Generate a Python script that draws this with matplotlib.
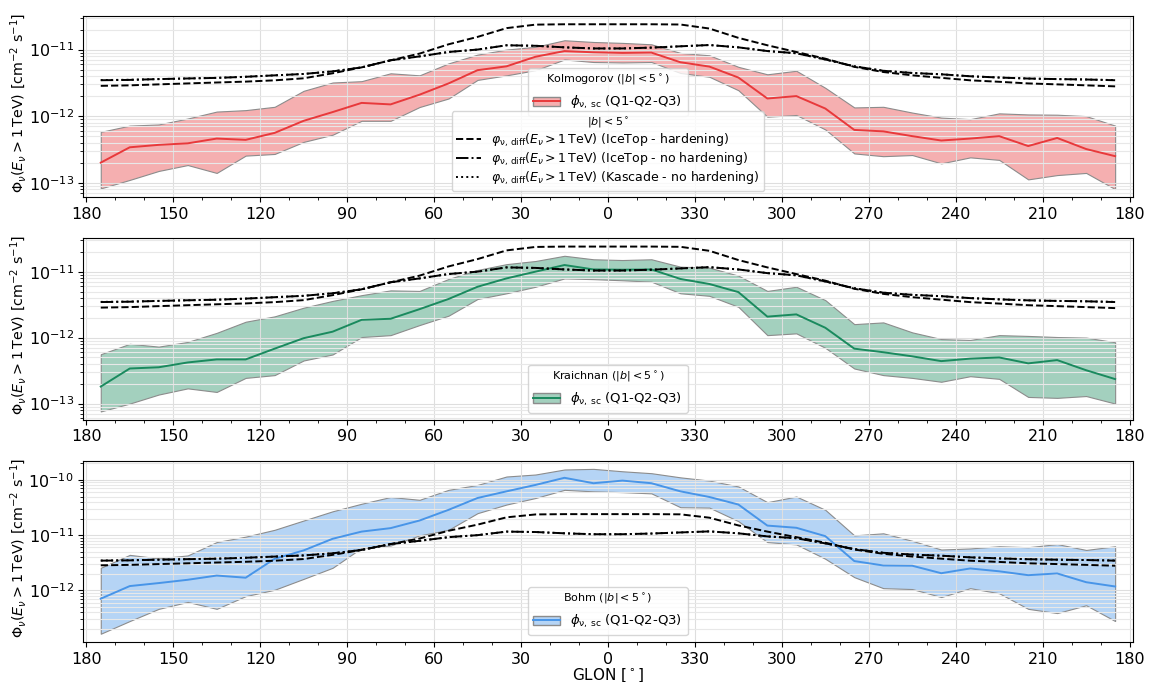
import matplotlib
matplotlib.use("Agg")
import matplotlib.pyplot as plt
import numpy as np
from matplotlib.lines import Line2D
from matplotlib.patches import Patch
from matplotlib.ticker import FixedLocator, FuncFormatter, NullFormatter

# Galactic longitude bin centres (wrapped to -180..180)
glon = [175, 165, 155, 145, 135, 125, 115, 105, 95, 85, 75, 65, 55, 45, 35, 25, 15, 5,
        -5, -15, -25, -35, -45, -55, -65, -75, -85, -95, -105, -115, -125, -135, -145, -155, -165, -175]

# diffuse neutrino flux, |b| < 5 deg
icetop_hard = [2.85e-12, 2.9e-12, 3.0e-12, 3.1e-12, 3.2e-12, 3.3e-12, 3.45e-12, 3.7e-12, 4.4e-12,
               5.4e-12, 6.9e-12, 8.7e-12, 1.2e-11, 1.55e-11, 2.1e-11, 2.37e-11, 2.4e-11, 2.4e-11,
               2.4e-11, 2.4e-11, 2.38e-11, 2.07e-11, 1.5e-11, 1.16e-11, 9.2e-12, 7.3e-12, 5.5e-12,
               4.6e-12, 4.1e-12, 3.76e-12, 3.45e-12, 3.28e-12, 3.1e-12, 3.0e-12, 2.9e-12, 2.8e-12]
icetop_nohard = [3.46e-12, 3.5e-12, 3.6e-12, 3.68e-12, 3.75e-12, 3.9e-12, 4.1e-12, 4.3e-12, 4.7e-12,
                 5.4e-12, 6.9e-12, 7.9e-12, 9.2e-12, 1.0e-11, 1.16e-11, 1.14e-11, 1.08e-11, 1.04e-11,
                 1.04e-11, 1.07e-11, 1.12e-11, 1.17e-11, 1.08e-11, 9.5e-12, 8.8e-12, 7.1e-12, 5.6e-12,
                 4.8e-12, 4.45e-12, 4.25e-12, 3.97e-12, 3.8e-12, 3.67e-12, 3.6e-12, 3.55e-12, 3.46e-12]
kascade_nohard = [3.48e-12, 3.52e-12, 3.6e-12, 3.68e-12, 3.76e-12, 3.9e-12, 4.1e-12, 4.3e-12, 4.7e-12,
                  5.4e-12, 6.9e-12, 7.9e-12, 9.2e-12, 1.0e-11, 1.16e-11, 1.14e-11, 1.08e-11, 1.04e-11,
                  1.04e-11, 1.07e-11, 1.12e-11, 1.17e-11, 1.08e-11, 9.5e-12, 8.8e-12, 7.1e-12, 5.6e-12,
                  4.8e-12, 4.45e-12, 4.25e-12, 3.97e-12, 3.8e-12, 3.67e-12, 3.6e-12, 3.55e-12, 3.48e-12]

# source-count flux quartiles per turbulence model
kol_q1 = [8.2e-14, 1.1e-13, 1.5e-13, 1.84e-13, 1.4e-13, 2.55e-13, 2.7e-13, 4.1e-13, 5.25e-13,
          8.5e-13, 8.5e-13, 1.37e-12, 1.84e-12, 3.5e-12, 4.1e-12, 4.9e-12, 7.1e-12, 6.5e-12,
          6.4e-12, 6.5e-12, 4.45e-12, 3.9e-12, 2.45e-12, 9.8e-13, 1.04e-12, 6.3e-13, 2.75e-13,
          2.5e-13, 2.6e-13, 1.95e-13, 2.4e-13, 2.2e-13, 1.12e-13, 1.3e-13, 1.4e-13, 8.0e-14]
kol_q2 = [2.0e-13, 3.4e-13, 3.7e-13, 3.9e-13, 4.6e-13, 4.4e-13, 5.6e-13, 8.5e-13, 1.15e-12,
          1.58e-12, 1.5e-12, 2.1e-12, 3.1e-12, 4.9e-12, 5.6e-12, 7.8e-12, 9.5e-12, 9.1e-12,
          8.9e-12, 9.0e-12, 6.45e-12, 5.55e-12, 3.8e-12, 1.84e-12, 2.0e-12, 1.3e-12, 6.2e-13,
          5.9e-13, 5.0e-13, 4.3e-13, 4.6e-13, 5.0e-13, 3.55e-13, 4.7e-13, 3.2e-13, 2.5e-13]
kol_q3 = [5.8e-13, 7.2e-13, 7.5e-13, 9.2e-13, 1.17e-12, 1.23e-12, 1.38e-12, 2.4e-12, 3.2e-12,
          3.35e-12, 4.4e-12, 4.1e-12, 6.2e-12, 8.4e-12, 1.0e-11, 1.1e-11, 1.38e-11, 1.3e-11,
          1.26e-11, 1.2e-11, 8.9e-12, 8.2e-12, 5.5e-12, 4.25e-12, 4.8e-12, 2.66e-12, 1.35e-12,
          1.38e-12, 1.13e-12, 9.5e-13, 9.0e-13, 1.1e-12, 1.06e-12, 1.05e-12, 1.0e-12, 7.2e-13]

kra_q1 = [7.6e-14, 1.0e-13, 1.37e-13, 1.7e-13, 1.5e-13, 2.45e-13, 2.7e-13, 4.5e-13, 5.55e-13,
          1.02e-12, 1.09e-12, 1.55e-12, 2.15e-12, 3.85e-12, 4.7e-12, 5.9e-12, 7.9e-12, 7.7e-12,
          7.4e-12, 7.05e-12, 4.7e-12, 4.3e-12, 2.93e-12, 1.09e-12, 1.16e-12, 7.0e-13, 3.4e-13,
          2.7e-13, 2.45e-13, 2.14e-13, 2.6e-13, 2.37e-13, 1.26e-13, 1.22e-13, 1.3e-13, 1.0e-13]
kra_q2 = [1.81e-13, 3.4e-13, 3.55e-13, 4.2e-13, 4.67e-13, 4.67e-13, 6.8e-13, 9.8e-13, 1.23e-12,
          1.86e-12, 1.93e-12, 2.7e-12, 3.85e-12, 5.9e-12, 7.9e-12, 1.0e-11, 1.26e-11, 1.08e-11,
          1.07e-11, 1.08e-11, 7.75e-12, 6.5e-12, 4.9e-12, 2.08e-12, 2.25e-12, 1.41e-12, 6.8e-13,
          6.0e-13, 5.2e-13, 4.4e-13, 4.8e-13, 5.0e-13, 4.07e-13, 4.56e-13, 3.2e-13, 2.35e-13]
kra_q3 = [5.6e-13, 8.05e-13, 7.3e-13, 8.6e-13, 1.18e-12, 1.74e-12, 2.1e-12, 2.84e-12, 3.6e-12,
          4.4e-12, 5.2e-12, 5.1e-12, 7.75e-12, 1.06e-11, 1.3e-11, 1.45e-11, 1.74e-11, 1.54e-11,
          1.5e-11, 1.54e-11, 1.19e-11, 1.15e-11, 8.7e-12, 5.1e-12, 5.9e-12, 3.7e-12, 1.6e-12,
          1.7e-12, 1.2e-12, 9.5e-13, 9.2e-13, 1.09e-12, 1.06e-12, 1.02e-12, 1.0e-12, 8.5e-13]

bohm_q1 = [1.65e-13, 2.8e-13, 4.65e-13, 6.2e-13, 4.65e-13, 7.9e-13, 1.03e-12, 1.62e-12, 2.57e-12,
           5.9e-12, 6.5e-12, 9.9e-12, 1.25e-11, 2.5e-11, 3.58e-11, 4.7e-11, 6.6e-11, 6.2e-11,
           6.0e-11, 5.7e-11, 3.2e-11, 3.15e-11, 1.79e-11, 7.5e-12, 6.8e-12, 3.74e-12, 1.74e-12,
           1.1e-12, 1.06e-12, 7.6e-13, 1.1e-12, 8.9e-13, 4.65e-13, 3.9e-13, 5.4e-13, 2.8e-13]
bohm_q2 = [7.1e-13, 1.2e-12, 1.36e-12, 1.56e-12, 1.86e-12, 1.7e-12, 3.74e-12, 5.3e-12, 8.6e-12,
           1.16e-11, 1.34e-11, 1.84e-11, 2.87e-11, 4.7e-11, 6.2e-11, 8.1e-11, 1.09e-10, 8.7e-11,
           9.7e-11, 8.7e-11, 6.2e-11, 4.9e-11, 3.58e-11, 1.49e-11, 1.36e-11, 9.6e-12, 3.4e-12,
           2.83e-12, 2.8e-12, 2.05e-12, 2.5e-12, 2.22e-12, 1.89e-12, 2.03e-12, 1.41e-12, 1.18e-12]
bohm_q3 = [2.57e-12, 4.4e-12, 3.8e-12, 4.3e-12, 7.5e-12, 9.4e-12, 1.25e-11, 1.84e-11, 2.7e-11,
           3.7e-11, 4.9e-11, 4.36e-11, 6.6e-11, 8.1e-11, 1.15e-10, 1.25e-10, 1.54e-10, 1.58e-10,
           1.43e-10, 1.32e-10, 1.11e-10, 9.7e-11, 7.6e-11, 3.95e-11, 5.0e-11, 2.87e-11, 9.9e-12,
           1.08e-11, 7.9e-12, 5.5e-12, 5.75e-12, 6.3e-12, 6.05e-12, 6.9e-12, 5.4e-12, 6.3e-12]

models = [
    ("Kolmogorov", "#e8393b", kol_q1, kol_q2, kol_q3),
    ("Kraichnan", "#1a8a5e", kra_q1, kra_q2, kra_q3),
    ("Bohm", "#4895e8", bohm_q1, bohm_q2, bohm_q3),
]

x = np.array(glon)

fig, axes = plt.subplots(3, 1, figsize=(11.58, 6.82), dpi=100)
fig.subplots_adjust(left=0.072, right=0.978, top=0.9765, bottom=0.0587, hspace=0.226)

ylabel = r"$\Phi_\nu(E_\nu > 1\,\mathrm{TeV})$ [cm$^{-2}$ s$^{-1}$]"
sc_label = r"$\phi_{\mathrm{\nu,\,sc}}$ (Q1-Q2-Q3)"
diff_label = r"$\varphi_{\mathrm{\nu,\,diff}}(E_\nu > 1\,\mathrm{TeV})$"


def glon_fmt(v, pos):
    v = int(round(v))
    return "180" if abs(v) == 180 else "%d" % (v % 360)


for i, (ax, (name, color, q1, q2, q3)) in enumerate(zip(axes, models)):
    ax.fill_between(x, q1, q3, facecolor=matplotlib.colors.to_rgba(color, 0.4),
                    edgecolor="0.55", linewidth=0.8)
    ax.plot(x, q2, color=color, lw=1.4)

    l1, = ax.plot(x, icetop_hard, color="k", ls="--", lw=1.4)
    l2, = ax.plot(x, icetop_nohard, color="k", ls="-.", lw=1.4)
    l3, = ax.plot(x, kascade_nohard, color="k", ls=":", lw=1.4)

    ax.set_yscale("log")
    # only label the decades that fall inside the autoscaled range
    lo, hi = ax.get_ylim()
    decades = 10.0 ** np.arange(np.ceil(np.log10(lo)), np.floor(np.log10(hi)) + 1)
    ax.yaxis.set_major_locator(FixedLocator(decades))
    ax.yaxis.set_minor_formatter(NullFormatter())
    ax.set_ylim(lo, hi)

    ax.set_xlim(181, -181)
    ax.xaxis.set_major_locator(FixedLocator(np.arange(-180, 181, 30)))
    ax.xaxis.set_minor_locator(FixedLocator(np.arange(-180, 181, 10)))
    ax.xaxis.set_major_formatter(FuncFormatter(glon_fmt))
    ax.tick_params(labelsize=11.5)
    ax.grid(which="major", color="0.87", lw=0.8)
    ax.grid(which="minor", axis="y", color="0.91", lw=0.8)
    ax.set_ylabel(ylabel, fontsize=10.3)
    ax.yaxis.set_label_coords(-0.052, 0.52)

    sc_handle = (Patch(facecolor=matplotlib.colors.to_rgba(color, 0.4), edgecolor="0.55"),
                 Line2D([], [], color=color, lw=1.4))
    if i == 0:
        leg = ax.legend([sc_handle], [sc_label], title=name + r" ($|b| < 5^\circ$)",
                        loc="lower center", bbox_to_anchor=(0.5, 0.447), borderaxespad=0,
                        fontsize=9.5, title_fontsize=8)
        ax.add_artist(leg)
        ax.legend([l1, l2, l3],
                  [diff_label + " (IceTop - hardening)",
                   diff_label + " (IceTop - no hardening)",
                   diff_label + " (Kascade - no hardening)"],
                  title=r"$|b| < 5^\circ$", loc="lower center", fontsize=9,
                  title_fontsize=8, labelspacing=0.15, borderpad=0.35)
    else:
        ax.legend([sc_handle], [sc_label], title=name + r" ($|b| < 5^\circ$)",
                  loc="lower center", fontsize=9.5, title_fontsize=8)

axes[-1].set_xlabel(r"GLON [$^\circ$]", fontsize=11, labelpad=0)

fig.savefig("out.png", dpi=100)
